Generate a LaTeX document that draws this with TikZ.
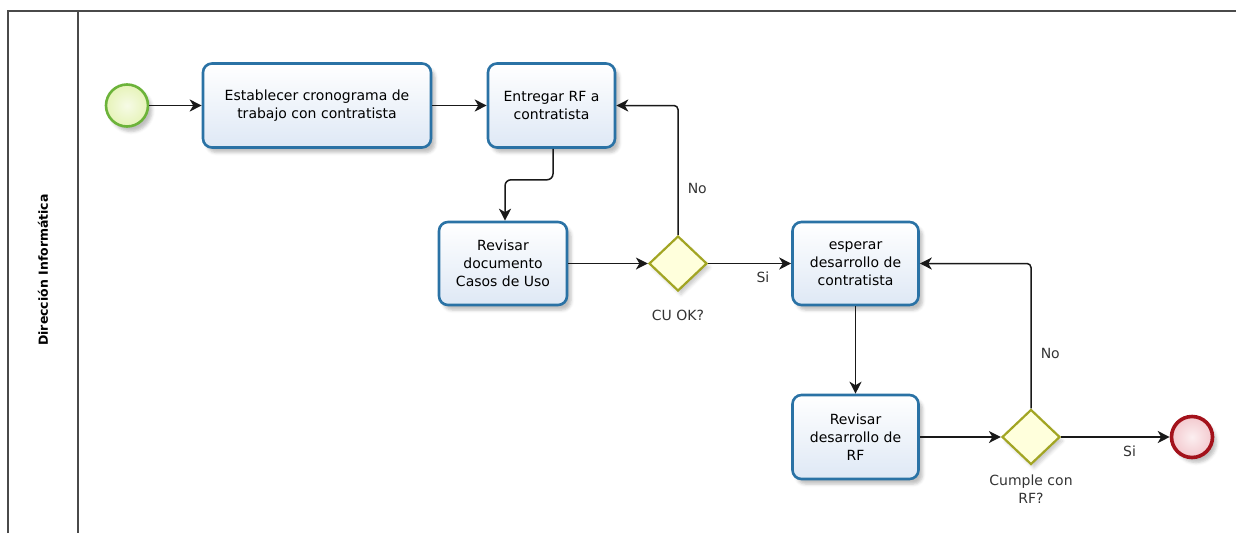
\documentclass[tikz,border=0pt]{standalone}
\usepackage{fontspec}
\setmainfont{DejaVu Sans}
\usepackage{tikz}
\usetikzlibrary{positioning, arrows.meta, shapes.geometric, shadows.blur}
\definecolor{laneline}{HTML}{4A4A4A}
\definecolor{taskline}{HTML}{2A72A5}
\definecolor{taskfill}{HTML}{DEE8F5}
\definecolor{gateline}{HTML}{A2A523}
\definecolor{gatefill}{HTML}{FFFFDC}
\definecolor{startline}{HTML}{6CB33A}
\definecolor{startfill}{HTML}{E6F3B8}
\definecolor{endline}{HTML}{A3121B}
\definecolor{endfill}{HTML}{F3C9CE}

\begin{document}
\begin{tikzpicture}[x=1pt, y=-1pt,
    task/.style={draw=taskline, line width=2.6pt, rounded corners=9pt,
      top color=white, bottom color=taskfill, align=center,
      minimum height=84pt, inner sep=2pt,
      blur shadow={shadow xshift=4pt, shadow yshift=-5pt, shadow opacity=25}},
    gate/.style={diamond, aspect=1.07, draw=gateline, line width=2.2pt,
      fill=gatefill, minimum width=58pt, minimum height=55pt, inner sep=0pt,
      blur shadow={shadow xshift=3pt, shadow yshift=-4pt, shadow opacity=20}},
    startev/.style={circle, draw=startline, line width=2.6pt,
      inner color=startfill!35, outer color=startfill, minimum size=42pt,
      inner sep=0pt,
      blur shadow={shadow xshift=4pt, shadow yshift=-5pt, shadow opacity=25}},
    endev/.style={circle, draw=endline, line width=3.6pt,
      inner color=endfill!30, outer color=endfill, minimum size=41pt,
      inner sep=0pt,
      blur shadow={shadow xshift=4pt, shadow yshift=-5pt, shadow opacity=25}},
    flow/.style={-{Stealth[length=12pt, width=12pt, inset=3.5pt]},
      line width=1.5pt, black!90},
    lbl/.style={font=\fontsize{14}{18}\selectfont, text=black!80, inner sep=2pt}]
  \useasboundingbox (0,0) rectangle (1236,533);
  \fontsize{14}{18}\selectfont
  % lane
  \draw[laneline, line width=2pt] (8,533) -- (8,11) -- (1236,11);
  \draw[laneline, line width=2pt] (78,11) -- (78,533);
  \node[font=\fontsize{12.5}{16}\selectfont\bfseries, rotate=90] (lane) at (43,270)
    {Dirección Informática};
  % events and gateways
  \node[startev] (start) at (127,105.5) {};
  \node[endev] (stop) at (1192,437) {};
  \node[gate] (cuok) at (678,263.5) {};
  \node[gate] (cumple) at (1031,437) {};
  \node[lbl, below=16pt of cuok] (cuoklbl) {CU OK?};
  \node[lbl, below=7pt of cumple, align=center] (cumplelbl) {Cumple con\\RF?};
  % tasks
  \node[task, minimum width=228pt] (crono) at (317,105.5)
    {Establecer cronograma de\\trabajo con contratista};
  \node[task, minimum width=127pt] (entrega) at (551.5,105.5)
    {Entregar RF a\\contratista};
  \node[task, minimum width=128pt, minimum height=83pt] (revdoc) at (503,263.5)
    {Revisar\\documento\\Casos de Uso};
  \node[task, minimum width=126pt, minimum height=83pt] (espera) at (855.5,263.5)
    {esperar\\desarrollo de\\contratista};
  \node[task, minimum width=126pt] (revrf) at (855.5,437)
    {Revisar\\desarrollo de\\RF};
  % flows
  \draw[flow] (start) -- (crono);
  \draw[flow] (crono) -- (entrega);
  \draw[flow, rounded corners=6pt] (entrega.south) ++(1.5,0) -- ++(0,31)
    -| ([xshift=2pt]revdoc.north);
  \draw[flow] (revdoc) -- (cuok);
  \draw[flow] (cuok) -- node[lbl, below=6pt, pos=0.66] {Si} (espera);
  \draw[flow, rounded corners=4pt] (cuok.north) -- node[lbl, right=7pt, pos=0.36] {No}
    (cuok.north |- entrega.east) -- (entrega.east);
  \draw[flow] (espera) -- (revrf);
  \draw[flow] (revrf) -- (cumple);
  \draw[flow] (cumple) -- node[lbl, below=6pt, pos=0.63] {Si} (stop);
  \draw[flow, rounded corners=4pt] (cumple.north) -- node[lbl, right=7pt, pos=0.38] {No}
    (cumple.north |- espera.east) -- (espera.east);
\end{tikzpicture}
\end{document}
